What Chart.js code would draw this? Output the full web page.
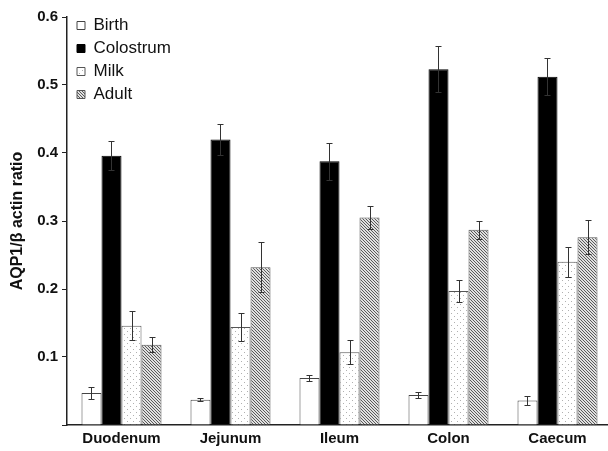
<!DOCTYPE html>
<html lang="en">
<head>
    <meta charset="UTF-8">
    <title>AQP1 / beta actin ratio</title>
    <script src="https://cdn.jsdelivr.net/npm/chart.js"></script>
    <style>
        html, body { margin: 0; padding: 0; background: #fff; overflow: hidden; }
        #chartContainer { width: 612px; height: 451px; }
    </style>
</head>
<body>
    <div id="chartContainer">
        <canvas id="chartCanvas"></canvas>
    </div>

    <script>
        const categories = ['Duodenum', 'Jejunum', 'Ileum', 'Colon', 'Caecum'];
        const yTicks = [0.1, 0.2, 0.3, 0.4, 0.5, 0.6];

        const birth = [0.047, 0.037, 0.069, 0.044, 0.036];
        const birthErr = [0.009, 0.002, 0.005, 0.004, 0.006];
        const colostrum = [0.396, 0.420, 0.388, 0.523, 0.512];
        const colostrumErr = [0.021, 0.023, 0.027, 0.034, 0.027];
        const milk = [0.146, 0.144, 0.107, 0.197, 0.240];
        const milkErr = [0.021, 0.020, 0.018, 0.016, 0.022];
        const adult = [0.118, 0.232, 0.305, 0.287, 0.276];
        const adultErr = [0.011, 0.037, 0.017, 0.013, 0.025];

        // small tiles for the dotted and hatched fills
        function dotPattern() {
            const c = document.createElement('canvas');
            c.width = 6; c.height = 6;
            const g = c.getContext('2d');
            g.fillStyle = '#fff';
            g.fillRect(0, 0, 6, 6);
            g.fillStyle = '#b0b0b0';
            g.fillRect(1, 1, 1, 1);
            g.fillRect(4, 4, 1, 1);
            return g.createPattern(c, 'repeat');
        }

        function hatchPattern() {
            const c = document.createElement('canvas');
            c.width = 3; c.height = 3;
            const g = c.getContext('2d');
            g.fillStyle = '#e0e0e0';
            g.fillRect(0, 0, 3, 3);
            g.fillStyle = '#5a5a5a';
            for (let i = 0; i < 3; i++) g.fillRect(i, i, 1, 1);
            return g.createPattern(c, 'repeat');
        }

        const errors = [birthErr, colostrumErr, milkErr, adultErr];

        const errorBars = {
            id: 'errorBars',
            afterDatasetsDraw(chart) {
                const ctx = chart.ctx;
                const y = chart.scales.y;
                ctx.save();
                ctx.strokeStyle = '#333';
                ctx.lineWidth = 1;
                chart.data.datasets.forEach((ds, di) => {
                    const meta = chart.getDatasetMeta(di);
                    meta.data.forEach((bar, i) => {
                        const v = ds.data[i];
                        const e = errors[di][i];
                        const top = Math.round(y.getPixelForValue(v + e)) + 0.5;
                        const bot = Math.round(y.getPixelForValue(v - e)) + 0.5;
                        const x = Math.round(bar.x) + 0.5;
                        ctx.beginPath();
                        ctx.moveTo(x, top); ctx.lineTo(x, bot);
                        ctx.moveTo(x - 3, top); ctx.lineTo(x + 3, top);
                        ctx.moveTo(x - 3, bot); ctx.lineTo(x + 3, bot);
                        ctx.stroke();
                    });
                });
                ctx.restore();
            }
        };

        // nudge the in-plot legend so it sits where the original has it
        const legendNudge = {
            id: 'legendNudge',
            afterLayout(chart) {
                if (chart.legend) {
                    chart.legend.left += 4;
                    chart.legend.top += 11;
                }
            }
        };

        const ctx = document.getElementById('chartCanvas').getContext('2d');
        new Chart(ctx, {
            type: 'bar',
            data: {
                labels: categories,
                datasets: [
                    { label: 'Birth', data: birth, backgroundColor: '#fff', borderColor: '#444', borderWidth: 1 },
                    { label: 'Colostrum', data: colostrum, backgroundColor: '#000', borderColor: '#000', borderWidth: 1 },
                    { label: 'Milk', data: milk, backgroundColor: dotPattern(), borderColor: '#555', borderWidth: 1 },
                    { label: 'Adult', data: adult, backgroundColor: hatchPattern(), borderColor: '#555', borderWidth: 1 }
                ]
            },
            options: {
                responsive: true,
                maintainAspectRatio: false,
                animation: false,
                layout: { padding: { top: 17, left: 0, right: 0, bottom: 0 } },
                datasets: { bar: { categoryPercentage: 0.734, barPercentage: 1.0 } },
                scales: {
                    x: {
                        grid: { display: false, drawTicks: false },
                        border: { color: '#222', width: 1.5 },
                        ticks: {
                            color: '#111',
                            padding: 5,
                            font: { family: 'Arial, "Liberation Sans"', size: 15, weight: 'bold' }
                        },
                        afterFit(scale) { scale.height = 26; }
                    },
                    y: {
                        min: 0,
                        max: 0.6,
                        afterBuildTicks(scale) {
                            scale.ticks = [0].concat(yTicks).map(v => ({ value: v }));
                        },
                        ticks: {
                            color: '#111',
                            padding: 4,
                            font: { family: 'Arial, "Liberation Sans"', size: 15, weight: 'bold' },
                            callback: v => (v === 0 ? '' : v.toFixed(1))
                        },
                        grid: { drawOnChartArea: false, drawTicks: true, tickLength: 5, color: '#222' },
                        border: { color: '#222', width: 1.5 },
                        title: {
                            display: true,
                            text: 'AQP1/\u03b2 actin ratio',
                            color: '#111',
                            padding: { top: 8, bottom: 0 },
                            font: { family: 'Arial, "Liberation Sans"', size: 16, weight: 'bold' }
                        },
                        afterFit(scale) { scale.width = 67; }
                    }
                },
                plugins: {
                    legend: {
                        position: 'chartArea',
                        align: 'start',
                        labels: {
                            boxWidth: 8,
                            boxHeight: 8,
                            padding: 6,
                            color: '#111',
                            font: { family: 'Arial, "Liberation Sans"', size: 17 }
                        }
                    },
                    tooltip: { enabled: false }
                }
            },
            plugins: [errorBars, legendNudge]
        });
    </script>
</body>
</html>
